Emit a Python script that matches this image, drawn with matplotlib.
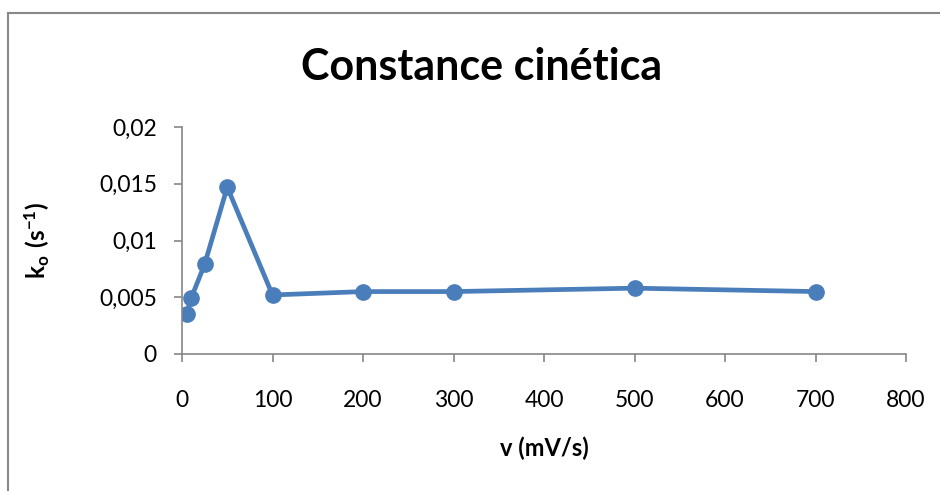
import matplotlib
matplotlib.use("Agg")
import matplotlib.pyplot as plt
from matplotlib.lines import Line2D

plt.rcParams['font.family'] = ['Lato', 'DejaVu Sans']
plt.rcParams['mathtext.fontset'] = 'custom'
plt.rcParams['mathtext.rm'] = 'Lato'
plt.rcParams['mathtext.bf'] = 'Lato:bold'

v = [5, 10, 25, 50, 100, 200, 300, 500, 700]
k0 = [0.0035, 0.0049, 0.0079, 0.0147, 0.0052, 0.0055, 0.0055, 0.0058, 0.0055]
xticks = [0, 100, 200, 300, 400, 500, 600, 700, 800]
yticks = [0, 0.005, 0.01, 0.015, 0.02]
ytick_labels = ['0', '0,005', '0,01', '0,015', '0,02']

fig = plt.figure(figsize=(9.4, 4.91), dpi=100)
ax = fig.add_axes([182/940, 1-354/491, (906-182)/940, (354-127)/491])

color = '#4A7EBB'
ax.plot(v, k0, color=color, lw=3.4, marker='o', ms=11, mfc=color, mec=color, solid_joinstyle='round')

ax.set_xlim(0, 800)
ax.set_ylim(0, 0.02)
ax.set_xticks(xticks)
ax.set_xticklabels([str(t) for t in xticks])
ax.set_yticks(yticks)
ax.set_yticklabels(ytick_labels)

for s in ['top', 'right']:
    ax.spines[s].set_visible(False)
for s in ['left', 'bottom']:
    ax.spines[s].set_color('#868686')
    ax.spines[s].set_linewidth(1.2)
ax.tick_params(axis='both', direction='out', length=6, width=1.2, color='#868686',
               labelsize=16.5, labelcolor='black')
ax.tick_params(axis='x', pad=20)
ax.tick_params(axis='y', pad=12)

ax.set_xlabel('v (mV/s)', fontsize=17, fontweight='bold', labelpad=18)
ax.set_ylabel(r'$\mathbf{k_o\ (s^{-1})}$', fontsize=17.5, labelpad=34)

fig.text(482/940, 1-67/491, 'Constance cinética', fontsize=31, fontweight='bold',
         ha='center', va='center')

# outer chart border
fig.add_artist(Line2D([8/940, 1.0], [1-13/491, 1-13/491], transform=fig.transFigure,
                      color='#888888', lw=1.5))
fig.add_artist(Line2D([8/940, 8/940], [0, 1-13/491], transform=fig.transFigure,
                      color='#888888', lw=1.5))

fig.savefig('out.png', dpi=100)
